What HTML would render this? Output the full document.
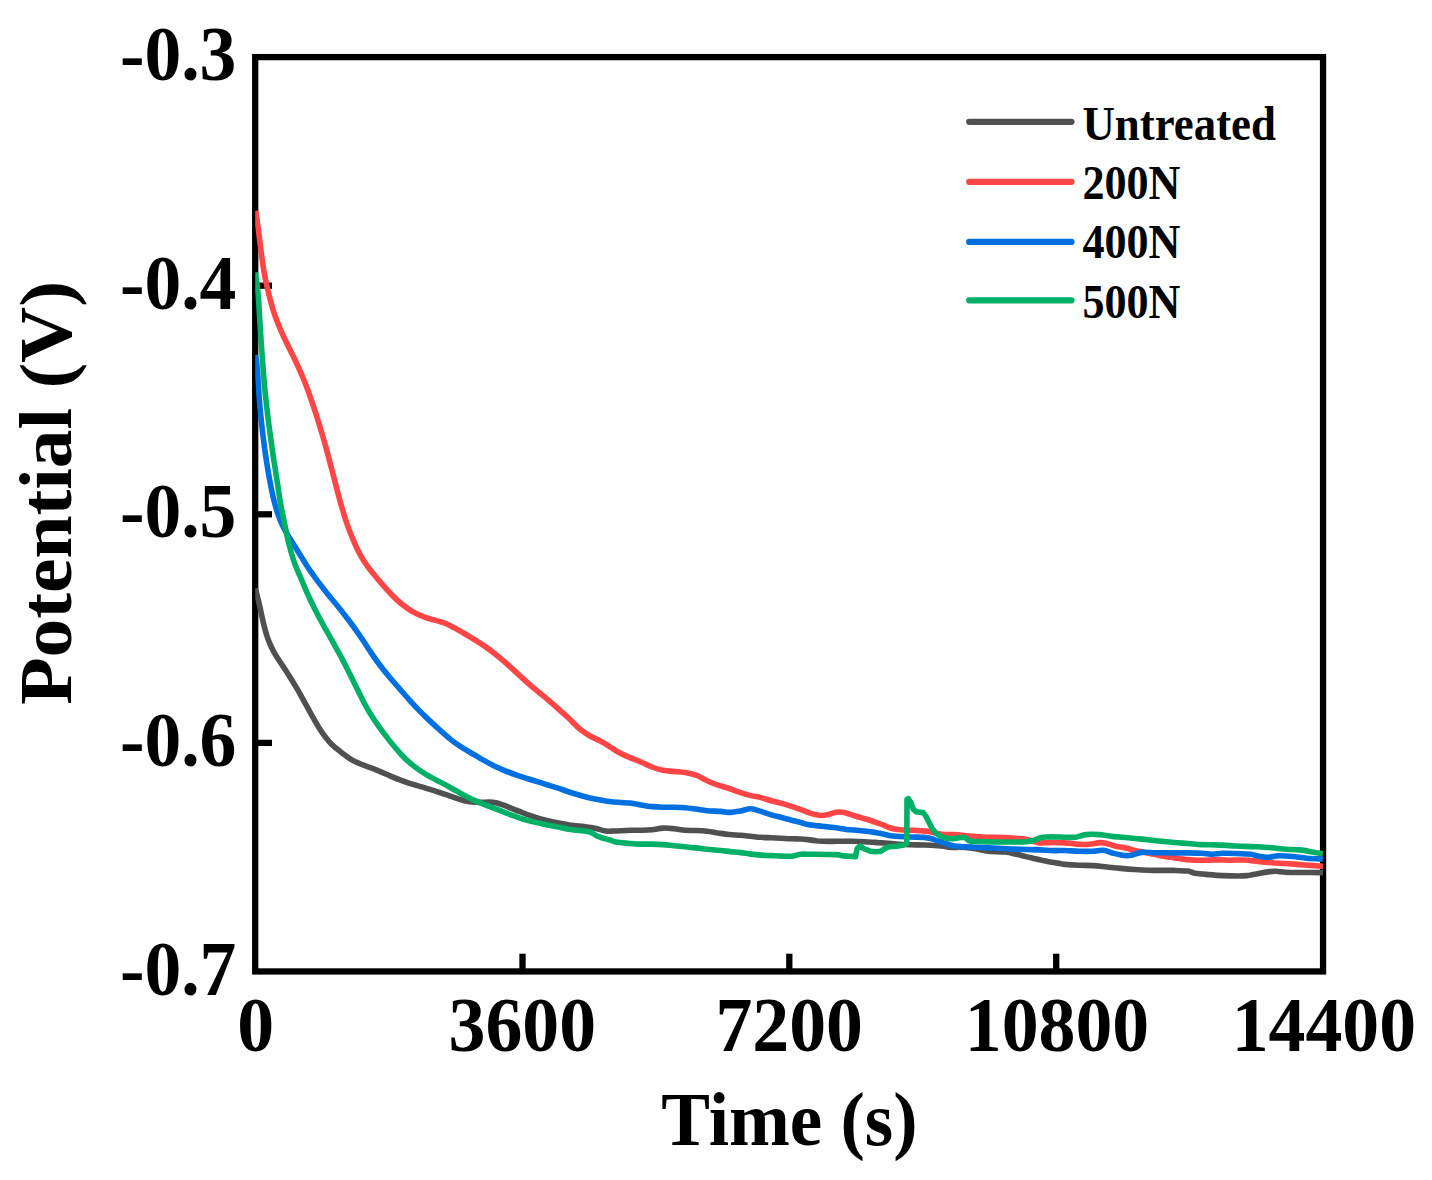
<!DOCTYPE html>
<html><head><meta charset="utf-8"><style>
html,body{margin:0;padding:0;background:#fff;width:1432px;height:1180px;overflow:hidden}
svg{display:block}
text{font-family:"Liberation Serif",serif;font-weight:bold;fill:#000}
</style></head><body>
<svg width="1432" height="1180" viewBox="0 0 1432 1180" xmlns="http://www.w3.org/2000/svg">
<rect width="1432" height="1180" fill="#fff"/>
<g stroke="#000" stroke-width="6.3" fill="none">
<rect x="255.2" y="57.1" width="1067.85" height="914.35"/>
<line x1="258" y1="285.7" x2="272" y2="285.7"/>
<line x1="258" y1="514.3" x2="272" y2="514.3"/>
<line x1="258" y1="742.9" x2="272" y2="742.9"/>
<line x1="522.5" y1="953.7" x2="522.5" y2="969"/>
<line x1="789.3" y1="953.7" x2="789.3" y2="969"/>
<line x1="1056.2" y1="953.7" x2="1056.2" y2="969"/>
</g>
<defs><clipPath id="c"><rect x="255.2" y="57.1" width="1067.85" height="914.35"/></clipPath></defs>
<g clip-path="url(#c)" fill="none" stroke-width="5.6" stroke-linejoin="round" stroke-linecap="butt">
<path stroke="#505050" d="M255.30,588.50 C255.59,589.60 256.48,592.83 257.07,595.12 C257.66,597.42 258.24,599.81 258.82,602.24 C259.39,604.68 259.95,607.19 260.51,609.74 C261.07,612.28 261.57,614.80 262.17,617.51 C262.78,620.22 263.36,623.03 264.12,625.99 C264.88,628.96 265.74,632.21 266.75,635.29 C267.76,638.37 268.89,641.54 270.16,644.48 C271.43,647.41 272.79,650.10 274.38,652.90 C275.96,655.70 277.75,658.36 279.64,661.27 C281.54,664.19 283.71,667.31 285.74,670.41 C287.76,673.52 289.85,676.78 291.78,679.91 C293.71,683.05 295.50,686.10 297.31,689.21 C299.11,692.33 300.84,695.40 302.62,698.59 C304.41,701.78 306.21,705.09 308.00,708.35 C309.79,711.61 311.58,714.98 313.39,718.16 C315.19,721.34 317.00,724.52 318.83,727.43 C320.66,730.35 322.53,733.17 324.36,735.66 C326.19,738.14 328.02,740.38 329.80,742.32 C331.58,744.26 333.30,745.79 335.02,747.31 C336.73,748.82 338.41,750.06 340.09,751.39 C341.78,752.72 343.45,754.04 345.12,755.29 C346.80,756.53 348.43,757.77 350.16,758.86 C351.89,759.95 353.52,760.88 355.51,761.83 C357.51,762.79 359.60,763.60 362.11,764.58 C364.62,765.56 367.54,766.56 370.56,767.73 C373.58,768.89 376.96,770.20 380.22,771.56 C383.48,772.91 386.83,774.45 390.12,775.85 C393.42,777.25 396.76,778.72 399.99,779.97 C403.22,781.22 406.48,782.34 409.51,783.34 C412.55,784.33 415.36,785.10 418.19,785.93 C421.01,786.76 423.58,787.46 426.46,788.33 C429.33,789.19 432.33,790.13 435.45,791.14 C438.57,792.15 441.97,793.29 445.16,794.38 C448.35,795.46 451.55,796.62 454.59,797.63 C457.63,798.64 460.48,799.68 463.39,800.42 C466.31,801.17 469.19,801.76 472.09,802.09 C475.00,802.41 478.02,802.36 480.81,802.37 C483.61,802.38 486.35,802.08 488.88,802.16 C491.40,802.24 493.62,802.38 495.97,802.84 C498.31,803.31 500.46,804.09 502.94,804.96 C505.41,805.83 507.95,806.93 510.81,808.06 C513.67,809.18 516.71,810.43 520.10,811.72 C523.49,813.01 527.19,814.47 531.12,815.81 C535.06,817.15 539.40,818.58 543.73,819.75 C548.07,820.92 552.64,821.95 557.13,822.86 C561.63,823.76 566.19,824.58 570.70,825.20 C575.21,825.82 580.15,826.10 584.20,826.60 C588.25,827.10 591.38,827.47 595.00,828.20 C598.62,828.93 602.73,830.53 605.90,831.00 C609.07,831.47 609.98,831.12 614.00,831.00 C618.02,830.88 625.50,830.42 630.00,830.30 C634.50,830.18 637.33,830.38 641.00,830.30 C644.67,830.22 648.33,830.17 652.00,829.80 C655.67,829.43 659.33,828.28 663.00,828.10 C666.67,827.92 670.32,828.33 674.00,828.70 C677.68,829.07 681.42,830.00 685.10,830.30 C688.78,830.60 692.43,830.33 696.10,830.50 C699.77,830.67 703.43,830.88 707.10,831.30 C710.77,831.72 714.43,832.47 718.10,833.00 C721.77,833.53 725.33,834.12 729.10,834.50 C732.87,834.88 737.07,835.00 740.70,835.30 C744.33,835.60 747.52,835.97 750.90,836.30 C754.28,836.63 757.62,837.05 761.00,837.30 C764.38,837.55 767.80,837.63 771.20,837.80 C774.60,837.97 778.00,838.13 781.40,838.30 C784.80,838.47 788.33,838.68 791.60,838.80 C794.87,838.92 798.28,838.87 801.00,839.00 C803.72,839.13 805.58,839.33 807.90,839.60 C810.22,839.87 812.57,840.32 814.90,840.60 C817.23,840.88 816.08,841.18 821.90,841.30 C827.72,841.42 843.45,841.27 849.80,841.30 C856.15,841.33 855.80,841.32 860.00,841.50 C864.20,841.68 871.33,842.17 875.00,842.40 C878.67,842.63 879.67,842.75 882.00,842.90 C884.33,843.05 886.67,843.12 889.00,843.30 C891.33,843.48 892.52,843.77 896.00,844.00 C899.48,844.23 905.25,844.53 909.90,844.70 C914.55,844.87 919.25,844.83 923.90,845.00 C928.55,845.17 934.32,845.47 937.80,845.70 C941.28,845.93 942.47,846.10 944.80,846.40 C947.13,846.70 949.47,847.35 951.80,847.50 C954.13,847.65 956.47,847.30 958.80,847.30 C961.13,847.30 963.93,847.40 965.80,847.50 C967.67,847.60 968.13,847.65 970.00,847.90 C971.87,848.15 974.67,848.57 977.00,849.00 C979.33,849.43 981.68,850.08 984.00,850.50 C986.32,850.92 987.42,851.25 990.90,851.50 C994.38,851.75 1001.40,851.72 1004.90,852.00 C1008.40,852.28 1009.57,852.73 1011.90,853.20 C1014.23,853.67 1016.57,854.23 1018.90,854.80 C1021.23,855.37 1023.58,856.03 1025.90,856.60 C1028.22,857.17 1030.48,857.67 1032.80,858.20 C1035.12,858.73 1037.47,859.30 1039.80,859.80 C1042.13,860.30 1044.47,860.73 1046.80,861.20 C1049.13,861.67 1051.60,862.22 1053.80,862.60 C1056.00,862.98 1058.13,863.20 1060.00,863.50 C1061.87,863.80 1061.83,864.10 1065.00,864.40 C1068.17,864.70 1074.35,865.10 1079.00,865.30 C1083.65,865.50 1088.25,865.32 1092.90,865.60 C1097.55,865.88 1102.23,866.53 1106.90,867.00 C1111.57,867.47 1116.25,867.98 1120.90,868.40 C1125.55,868.82 1130.15,869.20 1134.80,869.50 C1139.45,869.80 1144.60,870.05 1148.80,870.20 C1153.00,870.35 1155.80,870.37 1160.00,870.40 C1164.20,870.43 1169.35,870.28 1174.00,870.40 C1178.65,870.52 1184.42,870.63 1187.90,871.10 C1191.38,871.57 1191.40,872.62 1194.90,873.20 C1198.40,873.78 1204.25,874.20 1208.90,874.60 C1213.55,875.00 1217.95,875.37 1222.80,875.60 C1227.65,875.83 1233.92,876.00 1238.00,876.00 C1242.08,876.00 1244.97,875.80 1247.30,875.60 C1249.63,875.40 1249.88,875.20 1252.00,874.80 C1254.12,874.40 1257.00,873.73 1260.00,873.20 C1263.00,872.67 1267.33,871.92 1270.00,871.60 C1272.67,871.28 1273.35,871.20 1276.00,871.30 C1278.65,871.40 1281.93,872.00 1285.90,872.20 C1289.87,872.40 1293.62,872.43 1299.80,872.50 C1305.98,872.57 1319.13,872.58 1323.00,872.60"/>
<path stroke="#FF4545" d="M255.60,210.80 C255.83,212.27 256.53,216.54 256.99,219.59 C257.44,222.64 257.89,225.77 258.34,229.10 C258.78,232.43 259.21,236.05 259.65,239.57 C260.09,243.10 260.51,246.76 260.95,250.24 C261.39,253.71 261.81,257.08 262.28,260.43 C262.74,263.78 263.20,267.02 263.76,270.32 C264.32,273.62 264.94,276.91 265.63,280.24 C266.32,283.58 267.11,286.96 267.91,290.33 C268.72,293.71 269.56,297.12 270.46,300.50 C271.37,303.88 272.29,307.27 273.34,310.61 C274.40,313.94 275.54,317.23 276.78,320.52 C278.03,323.80 279.39,327.03 280.82,330.31 C282.25,333.60 283.78,336.89 285.36,340.23 C286.94,343.57 288.63,346.95 290.29,350.33 C291.94,353.71 293.68,357.12 295.29,360.50 C296.91,363.88 298.49,367.27 299.96,370.61 C301.43,373.94 302.79,377.23 304.11,380.52 C305.43,383.80 306.66,387.03 307.88,390.31 C309.09,393.60 310.26,396.89 311.41,400.23 C312.56,403.57 313.67,406.95 314.77,410.33 C315.88,413.71 316.96,417.12 318.02,420.50 C319.08,423.88 320.13,427.27 321.13,430.61 C322.14,433.94 323.11,437.23 324.05,440.52 C324.99,443.80 325.86,447.03 326.74,450.31 C327.63,453.60 328.48,456.90 329.36,460.23 C330.23,463.56 331.14,466.94 332.01,470.29 C332.89,473.63 333.75,476.97 334.61,480.29 C335.46,483.61 336.28,486.89 337.15,490.21 C338.02,493.53 338.91,496.87 339.84,500.21 C340.76,503.56 341.73,506.99 342.71,510.29 C343.68,513.58 344.68,516.91 345.68,519.98 C346.68,523.04 347.67,525.85 348.71,528.65 C349.74,531.45 350.75,533.95 351.91,536.77 C353.08,539.60 354.26,542.52 355.69,545.61 C357.13,548.70 358.67,552.04 360.53,555.32 C362.39,558.60 364.52,561.96 366.88,565.29 C369.23,568.62 371.95,571.99 374.63,575.29 C377.31,578.60 380.22,581.99 382.95,585.11 C385.68,588.23 388.44,591.34 391.00,594.01 C393.56,596.68 396.04,599.08 398.31,601.12 C400.58,603.17 402.65,604.79 404.63,606.27 C406.60,607.76 408.36,608.92 410.13,610.03 C411.91,611.15 413.57,612.08 415.27,612.97 C416.97,613.85 418.64,614.62 420.33,615.34 C422.02,616.07 423.71,616.72 425.41,617.33 C427.10,617.94 428.80,618.50 430.50,619.01 C432.20,619.52 433.90,619.94 435.60,620.39 C437.30,620.85 439.01,621.22 440.69,621.74 C442.38,622.25 444.02,622.77 445.71,623.47 C447.41,624.17 448.96,624.94 450.87,625.93 C452.78,626.93 454.75,628.05 457.19,629.43 C459.64,630.81 462.53,632.45 465.54,634.23 C468.56,636.01 472.05,638.07 475.29,640.10 C478.52,642.13 481.91,644.30 484.96,646.40 C488.01,648.50 490.81,650.54 493.59,652.69 C496.38,654.83 498.85,656.87 501.66,659.27 C504.48,661.67 507.41,664.29 510.49,667.08 C513.58,669.87 516.97,673.11 520.16,676.02 C523.36,678.94 526.55,681.89 529.66,684.59 C532.77,687.30 535.73,689.67 538.84,692.25 C541.95,694.83 545.09,697.33 548.34,700.09 C551.59,702.85 554.97,705.83 558.33,708.81 C561.69,711.80 564.89,714.60 568.50,718.00 C572.11,721.40 576.42,726.20 580.00,729.20 C583.58,732.20 586.67,734.07 590.00,736.00 C593.33,737.93 596.67,739.00 600.00,740.80 C603.33,742.60 607.00,744.93 610.00,746.80 C613.00,748.67 614.67,750.20 618.00,752.00 C621.33,753.80 626.17,755.93 630.00,757.60 C633.83,759.27 637.33,760.43 641.00,762.00 C644.67,763.57 648.33,765.62 652.00,767.00 C655.67,768.38 659.33,769.57 663.00,770.30 C666.67,771.03 670.32,771.03 674.00,771.40 C677.68,771.77 681.42,771.87 685.10,772.50 C688.78,773.13 692.43,773.83 696.10,775.20 C699.77,776.57 703.43,779.03 707.10,780.70 C710.77,782.37 714.43,783.90 718.10,785.20 C721.77,786.50 725.33,787.27 729.10,788.50 C732.87,789.73 737.07,791.42 740.70,792.60 C744.33,793.78 747.52,794.77 750.90,795.60 C754.28,796.43 757.62,796.75 761.00,797.60 C764.38,798.45 767.80,799.77 771.20,800.70 C774.60,801.63 778.00,802.27 781.40,803.20 C784.80,804.13 788.33,805.23 791.60,806.30 C794.87,807.37 798.28,808.60 801.00,809.60 C803.72,810.60 805.58,811.50 807.90,812.30 C810.22,813.10 812.57,813.87 814.90,814.40 C817.23,814.93 819.57,815.50 821.90,815.50 C824.23,815.50 826.57,814.93 828.90,814.40 C831.23,813.87 833.58,812.65 835.90,812.30 C838.22,811.95 840.48,812.00 842.80,812.30 C845.12,812.60 847.47,813.40 849.80,814.10 C852.13,814.80 854.47,815.77 856.80,816.50 C859.13,817.23 861.47,817.83 863.80,818.50 C866.13,819.17 868.93,819.88 870.80,820.50 C872.67,821.12 873.13,821.53 875.00,822.20 C876.87,822.87 879.67,823.62 882.00,824.50 C884.33,825.38 886.67,826.70 889.00,827.50 C891.33,828.30 893.10,828.83 896.00,829.30 C898.90,829.77 903.50,830.13 906.40,830.30 C909.30,830.47 911.07,830.22 913.40,830.30 C915.73,830.38 918.07,830.63 920.40,830.80 C922.73,830.97 924.50,830.85 927.40,831.30 C930.30,831.75 934.90,832.97 937.80,833.50 C940.70,834.03 942.47,834.33 944.80,834.50 C947.13,834.67 949.47,834.45 951.80,834.50 C954.13,834.55 956.47,834.58 958.80,834.80 C961.13,835.02 963.10,835.52 965.80,835.80 C968.50,836.08 972.55,836.33 975.00,836.50 C977.45,836.67 978.42,836.67 980.50,836.80 C982.58,836.93 983.43,837.18 987.50,837.30 C991.57,837.42 1000.25,837.33 1004.90,837.50 C1009.55,837.67 1012.05,838.05 1015.40,838.30 C1018.75,838.55 1022.23,838.55 1025.00,839.00 C1027.77,839.45 1029.53,840.35 1032.00,841.00 C1034.47,841.65 1037.33,842.63 1039.80,842.90 C1042.27,843.17 1043.30,842.65 1046.80,842.60 C1050.30,842.55 1056.93,842.48 1060.80,842.60 C1064.67,842.72 1066.97,843.02 1070.00,843.30 C1073.03,843.58 1075.77,844.13 1079.00,844.30 C1082.23,844.47 1085.92,844.58 1089.40,844.30 C1092.88,844.02 1096.98,842.72 1099.90,842.60 C1102.82,842.48 1104.57,843.08 1106.90,843.60 C1109.23,844.12 1111.57,845.12 1113.90,845.70 C1116.23,846.28 1118.58,846.63 1120.90,847.10 C1123.22,847.57 1125.83,848.03 1127.80,848.50 C1129.77,848.97 1130.67,849.38 1132.70,849.90 C1134.73,850.42 1137.12,851.02 1140.00,851.60 C1142.88,852.18 1146.67,852.72 1150.00,853.40 C1153.33,854.08 1156.00,854.97 1160.00,855.70 C1164.00,856.43 1169.35,857.15 1174.00,857.80 C1178.65,858.45 1183.25,859.18 1187.90,859.60 C1192.55,860.02 1197.23,860.25 1201.90,860.30 C1206.57,860.35 1211.25,859.92 1215.90,859.90 C1220.55,859.88 1225.12,860.18 1229.80,860.20 C1234.48,860.22 1239.32,859.80 1244.00,860.00 C1248.68,860.20 1253.25,860.93 1257.90,861.40 C1262.55,861.87 1267.23,862.45 1271.90,862.80 C1276.57,863.15 1281.25,863.20 1285.90,863.50 C1290.55,863.80 1295.15,864.25 1299.80,864.60 C1304.45,864.95 1309.93,865.32 1313.80,865.60 C1317.67,865.88 1321.47,866.18 1323.00,866.30"/>
<path stroke="#0070E0" d="M255.30,355.00 C255.49,356.08 256.09,358.78 256.46,361.48 C256.82,364.17 257.18,367.46 257.49,371.16 C257.80,374.86 258.05,379.34 258.33,383.67 C258.62,388.00 258.86,392.62 259.19,397.13 C259.52,401.63 259.89,406.17 260.31,410.68 C260.72,415.18 261.18,419.69 261.66,424.14 C262.14,428.59 262.65,433.02 263.19,437.37 C263.72,441.71 264.27,445.99 264.86,450.22 C265.45,454.45 266.06,458.56 266.73,462.76 C267.39,466.96 268.10,471.20 268.86,475.42 C269.61,479.65 270.41,484.03 271.24,488.09 C272.06,492.15 272.89,496.09 273.81,499.79 C274.72,503.49 275.65,506.90 276.73,510.29 C277.80,513.67 278.96,516.95 280.24,520.09 C281.52,523.22 282.91,526.21 284.41,529.10 C285.90,531.99 287.52,534.63 289.22,537.45 C290.92,540.27 292.79,543.10 294.62,546.02 C296.46,548.94 298.40,552.06 300.20,554.96 C302.00,557.87 303.66,560.68 305.43,563.46 C307.19,566.24 308.83,568.80 310.81,571.65 C312.79,574.50 315.02,577.52 317.30,580.57 C319.58,583.62 322.20,587.01 324.51,589.96 C326.82,592.91 329.10,595.76 331.15,598.27 C333.20,600.78 334.92,602.76 336.79,605.04 C338.65,607.33 340.33,609.38 342.35,611.96 C344.37,614.54 346.61,617.47 348.90,620.53 C351.19,623.59 353.77,627.02 356.11,630.32 C358.46,633.61 360.74,636.97 362.96,640.29 C365.18,643.61 367.21,646.91 369.43,650.24 C371.65,653.56 373.87,656.91 376.27,660.24 C378.68,663.57 381.22,666.90 383.86,670.23 C386.51,673.56 389.32,676.87 392.15,680.20 C394.98,683.53 397.93,686.87 400.86,690.21 C403.79,693.56 406.75,696.95 409.74,700.27 C412.74,703.59 415.81,706.97 418.84,710.12 C421.88,713.26 425.04,716.34 427.96,719.14 C430.89,721.94 433.72,724.48 436.38,726.91 C439.04,729.34 441.45,731.58 443.91,733.73 C446.36,735.89 448.71,737.95 451.11,739.84 C453.50,741.73 455.91,743.46 458.26,745.06 C460.62,746.67 462.95,748.06 465.24,749.46 C467.54,750.86 469.79,752.14 472.04,753.46 C474.29,754.79 476.49,756.09 478.75,757.41 C481.01,758.73 483.19,760.04 485.61,761.37 C488.02,762.70 490.35,763.98 493.22,765.39 C496.10,766.79 499.18,768.26 502.86,769.80 C506.54,771.34 510.88,773.04 515.30,774.62 C519.72,776.21 524.70,777.80 529.39,779.29 C534.09,780.78 538.84,782.14 543.46,783.58 C548.09,785.01 552.59,786.42 557.13,787.91 C561.67,789.39 566.19,791.07 570.70,792.50 C575.21,793.93 579.68,795.32 584.20,796.50 C588.72,797.68 593.28,798.72 597.80,799.60 C602.32,800.48 605.93,801.23 611.30,801.80 C616.67,802.37 625.05,802.47 630.00,803.00 C634.95,803.53 637.33,804.40 641.00,805.00 C644.67,805.60 648.33,806.23 652.00,806.60 C655.67,806.97 659.33,807.10 663.00,807.20 C666.67,807.30 670.32,807.12 674.00,807.20 C677.68,807.28 681.42,807.38 685.10,807.70 C688.78,808.02 692.43,808.60 696.10,809.10 C699.77,809.60 703.07,810.32 707.10,810.70 C711.13,811.08 716.40,811.12 720.30,811.40 C724.20,811.68 727.10,812.48 730.50,812.40 C733.90,812.32 737.30,811.50 740.70,810.90 C744.10,810.30 747.52,808.72 750.90,808.80 C754.28,808.88 757.62,810.38 761.00,811.40 C764.38,812.42 767.80,813.88 771.20,814.90 C774.60,815.92 778.00,816.62 781.40,817.50 C784.80,818.38 788.33,819.37 791.60,820.20 C794.87,821.03 798.28,821.77 801.00,822.50 C803.72,823.23 805.58,824.10 807.90,824.60 C810.22,825.10 812.57,825.23 814.90,825.50 C817.23,825.77 819.57,825.95 821.90,826.20 C824.23,826.45 826.57,826.73 828.90,827.00 C831.23,827.27 833.58,827.50 835.90,827.80 C838.22,828.10 840.48,828.47 842.80,828.80 C845.12,829.13 847.47,829.57 849.80,829.80 C852.13,830.03 854.47,830.00 856.80,830.20 C859.13,830.40 861.47,830.73 863.80,831.00 C866.13,831.27 868.93,831.57 870.80,831.80 C872.67,832.03 873.13,832.07 875.00,832.40 C876.87,832.73 879.67,833.30 882.00,833.80 C884.33,834.30 886.67,834.98 889.00,835.40 C891.33,835.82 892.52,836.03 896.00,836.30 C899.48,836.57 905.25,836.82 909.90,837.00 C914.55,837.18 920.40,837.15 923.90,837.40 C927.40,837.65 928.58,837.90 930.90,838.50 C933.22,839.10 935.48,840.20 937.80,841.00 C940.12,841.80 942.47,842.55 944.80,843.30 C947.13,844.05 949.47,844.98 951.80,845.50 C954.13,846.02 956.47,846.18 958.80,846.40 C961.13,846.62 963.10,846.67 965.80,846.80 C968.50,846.93 971.97,847.07 975.00,847.20 C978.03,847.33 980.18,847.42 984.00,847.60 C987.82,847.78 993.25,848.07 997.90,848.30 C1002.55,848.53 1007.23,848.80 1011.90,849.00 C1016.57,849.20 1021.25,849.35 1025.90,849.50 C1030.55,849.65 1035.15,849.72 1039.80,849.90 C1044.45,850.08 1049.60,850.50 1053.80,850.60 C1058.00,850.70 1060.80,850.38 1065.00,850.50 C1069.20,850.62 1074.35,851.17 1079.00,851.30 C1083.65,851.43 1088.83,851.47 1092.90,851.30 C1096.97,851.13 1099.90,849.95 1103.40,850.30 C1106.90,850.65 1110.40,852.53 1113.90,853.40 C1117.40,854.27 1121.50,855.20 1124.40,855.50 C1127.30,855.80 1128.40,855.72 1131.30,855.20 C1134.20,854.68 1137.72,852.82 1141.80,852.40 C1145.88,851.98 1150.43,852.62 1155.80,852.70 C1161.17,852.78 1168.65,852.87 1174.00,852.90 C1179.35,852.93 1183.25,852.83 1187.90,852.90 C1192.55,852.97 1197.82,853.07 1201.90,853.30 C1205.98,853.53 1208.92,854.30 1212.40,854.30 C1215.88,854.30 1218.73,853.43 1222.80,853.30 C1226.87,853.17 1232.13,853.33 1236.80,853.50 C1241.47,853.67 1247.28,853.88 1250.80,854.30 C1254.32,854.72 1254.97,855.52 1257.90,856.00 C1260.83,856.48 1264.90,857.23 1268.40,857.20 C1271.90,857.17 1274.83,855.92 1278.90,855.80 C1282.97,855.68 1288.15,856.08 1292.80,856.50 C1297.45,856.92 1301.77,857.88 1306.80,858.30 C1311.83,858.72 1320.30,858.88 1323.00,859.00"/>
<path stroke="#00B066" d="M255.30,272.50 C255.51,273.93 256.16,278.11 256.57,281.11 C256.97,284.10 257.39,287.26 257.73,290.49 C258.07,293.72 258.36,297.12 258.62,300.50 C258.87,303.88 259.05,307.23 259.26,310.79 C259.47,314.36 259.64,317.83 259.88,321.88 C260.12,325.94 260.39,330.26 260.71,335.12 C261.03,339.98 261.42,345.58 261.81,351.02 C262.20,356.47 262.63,362.42 263.04,367.78 C263.46,373.14 263.86,378.28 264.29,383.17 C264.72,388.06 265.16,392.54 265.64,397.13 C266.12,401.71 266.64,406.17 267.17,410.68 C267.70,415.18 268.27,419.75 268.82,424.14 C269.38,428.54 269.97,432.97 270.52,437.05 C271.07,441.13 271.61,445.00 272.13,448.65 C272.65,452.30 273.14,455.59 273.66,458.98 C274.17,462.36 274.69,465.58 275.23,468.95 C275.76,472.32 276.31,475.76 276.84,479.22 C277.37,482.68 277.88,486.23 278.40,489.71 C278.92,493.19 279.40,496.68 279.97,500.11 C280.54,503.54 281.16,506.98 281.80,510.29 C282.44,513.60 283.17,516.91 283.80,519.98 C284.43,523.04 285.00,525.85 285.58,528.65 C286.16,531.45 286.64,533.95 287.28,536.77 C287.91,539.60 288.60,542.56 289.38,545.60 C290.16,548.64 291.06,552.04 291.95,555.03 C292.84,558.01 293.79,561.01 294.69,563.54 C295.60,566.06 296.51,568.15 297.37,570.19 C298.23,572.23 299.01,573.77 299.88,575.78 C300.74,577.79 301.54,579.78 302.58,582.25 C303.62,584.72 304.79,587.61 306.12,590.61 C307.44,593.60 308.98,596.94 310.53,600.21 C312.08,603.48 313.73,606.87 315.42,610.21 C317.11,613.56 318.89,616.99 320.66,620.29 C322.43,623.58 324.32,626.91 326.03,629.98 C327.75,633.04 329.37,635.85 330.96,638.65 C332.54,641.45 333.97,643.95 335.54,646.77 C337.12,649.60 338.77,652.57 340.39,655.60 C342.01,658.63 343.74,661.97 345.27,664.98 C346.80,667.98 348.18,670.85 349.57,673.65 C350.95,676.45 352.18,678.95 353.58,681.77 C354.98,684.60 356.45,687.57 357.96,690.60 C359.47,693.63 361.10,696.97 362.66,699.98 C364.21,702.98 365.70,705.85 367.30,708.65 C368.90,711.45 370.39,713.91 372.24,716.76 C374.09,719.62 376.09,722.54 378.39,725.77 C380.69,729.00 383.40,732.68 386.04,736.14 C388.69,739.60 391.60,743.32 394.28,746.54 C396.97,749.77 399.54,752.77 402.16,755.51 C404.77,758.24 407.28,760.64 409.99,762.98 C412.70,765.31 415.55,767.48 418.43,769.49 C421.30,771.51 424.27,773.34 427.22,775.08 C430.17,776.81 433.10,778.31 436.12,779.92 C439.14,781.54 442.27,783.11 445.35,784.78 C448.43,786.46 451.57,788.26 454.60,789.97 C457.63,791.68 460.52,793.45 463.52,795.05 C466.53,796.65 469.51,798.16 472.65,799.59 C475.79,801.03 479.05,802.34 482.35,803.68 C485.65,805.02 489.02,806.30 492.44,807.64 C495.87,808.98 499.43,810.38 502.89,811.73 C506.36,813.08 509.91,814.51 513.22,815.73 C516.52,816.94 519.52,818.03 522.73,819.01 C525.93,820.00 528.89,820.78 532.44,821.64 C535.98,822.51 539.88,823.32 543.99,824.19 C548.11,825.07 552.68,825.97 557.13,826.88 C561.58,827.78 566.19,828.91 570.70,829.60 C575.21,830.29 580.82,830.55 584.20,831.00 C587.58,831.45 588.73,831.42 591.00,832.30 C593.27,833.18 594.42,834.93 597.80,836.30 C601.18,837.67 607.97,839.50 611.30,840.50 C614.63,841.50 614.68,841.80 617.80,842.30 C620.92,842.80 626.13,843.20 630.00,843.50 C633.87,843.80 637.33,844.00 641.00,844.10 C644.67,844.20 648.33,844.02 652.00,844.10 C655.67,844.18 659.33,844.33 663.00,844.60 C666.67,844.87 670.32,845.33 674.00,845.70 C677.68,846.07 681.42,846.43 685.10,846.80 C688.78,847.17 692.43,847.48 696.10,847.90 C699.77,848.32 703.07,848.87 707.10,849.30 C711.13,849.73 716.40,850.12 720.30,850.50 C724.20,850.88 727.10,851.25 730.50,851.60 C733.90,851.95 737.30,852.18 740.70,852.60 C744.10,853.02 747.52,853.68 750.90,854.10 C754.28,854.52 757.62,854.85 761.00,855.10 C764.38,855.35 767.80,855.43 771.20,855.60 C774.60,855.77 778.00,855.98 781.40,856.10 C784.80,856.22 789.33,856.38 791.60,856.30 C793.87,856.22 793.43,855.95 795.00,855.60 C796.57,855.25 798.85,854.43 801.00,854.20 C803.15,853.97 802.08,854.13 807.90,854.20 C813.72,854.27 830.30,854.37 835.90,854.60 C841.50,854.83 839.18,855.32 841.50,855.60 C843.82,855.88 847.48,856.10 849.80,856.30 C852.12,856.50 854.47,856.72 855.40,856.80  L857.20,848.50 L860.30,846.00 L863.80,848.70 L870.80,851.30 L876.00,851.70 L880.60,851.40 L885.50,848.20 L889.00,846.80 L896.00,846.20 L902.90,845.20 L906.80,843.50 L907.00,799.50 L908.30,798.70 L910.80,802.50 L913.20,809.00 L916.00,811.80 L923.00,812.60 L926.10,816.40 L929.10,822.50 L932.20,828.60 L935.80,833.20 L935.80,833.20 C936.63,833.72 939.12,835.48 940.80,836.30 C942.48,837.12 944.37,837.68 945.90,838.10 C947.43,838.52 948.43,838.75 950.00,838.80 C951.57,838.85 953.48,838.62 955.30,838.40 C957.12,838.18 959.15,837.58 960.90,837.50 C962.65,837.42 964.28,837.32 965.80,837.90 C967.32,838.48 966.97,840.38 970.00,841.00 C973.03,841.62 979.35,841.43 984.00,841.60 C988.65,841.77 993.25,841.93 997.90,842.00 C1002.55,842.07 1007.23,842.03 1011.90,842.00 C1016.57,841.97 1022.42,842.05 1025.90,841.80 C1029.38,841.55 1030.48,841.13 1032.80,840.50 C1035.12,839.87 1037.47,838.58 1039.80,838.00 C1042.13,837.42 1043.30,837.17 1046.80,837.00 C1050.30,836.83 1057.43,836.95 1060.80,837.00 C1064.17,837.05 1064.55,837.27 1067.00,837.30 C1069.45,837.33 1072.33,837.65 1075.50,837.20 C1078.67,836.75 1081.93,835.03 1086.00,834.60 C1090.07,834.17 1095.25,834.27 1099.90,834.60 C1104.55,834.93 1109.25,836.08 1113.90,836.60 C1118.55,837.12 1123.15,837.28 1127.80,837.70 C1132.45,838.12 1137.13,838.58 1141.80,839.10 C1146.47,839.62 1150.43,840.23 1155.80,840.80 C1161.17,841.37 1168.65,842.05 1174.00,842.50 C1179.35,842.95 1183.25,843.15 1187.90,843.50 C1192.55,843.85 1197.23,844.37 1201.90,844.60 C1206.57,844.83 1211.25,844.73 1215.90,844.90 C1220.55,845.07 1225.12,845.35 1229.80,845.60 C1234.48,845.85 1239.32,846.20 1244.00,846.40 C1248.68,846.60 1253.25,846.57 1257.90,846.80 C1262.55,847.03 1267.23,847.40 1271.90,847.80 C1276.57,848.20 1281.25,848.85 1285.90,849.20 C1290.55,849.55 1295.15,849.38 1299.80,849.90 C1304.45,850.42 1309.93,851.65 1313.80,852.30 C1317.67,852.95 1321.47,853.55 1323.00,853.80"/>
</g>
<text font-size="78.3" text-anchor="start" transform="translate(119.92,80.20) scale(0.94,1)">-0.3</text>
<text font-size="78.3" text-anchor="start" transform="translate(119.92,308.80) scale(0.94,1)">-0.4</text>
<text font-size="78.3" text-anchor="start" transform="translate(119.92,537.40) scale(0.94,1)">-0.5</text>
<text font-size="78.3" text-anchor="start" transform="translate(119.92,766.00) scale(0.94,1)">-0.6</text>
<text font-size="78.3" text-anchor="start" transform="translate(119.92,994.60) scale(0.94,1)">-0.7</text>
<text font-size="78.5" text-anchor="middle" transform="translate(255.60,1051.30) scale(0.94,1)">0</text>
<text font-size="78.5" text-anchor="middle" transform="translate(522.30,1051.30) scale(0.94,1)">3600</text>
<text font-size="78.5" text-anchor="middle" transform="translate(789.20,1051.30) scale(0.94,1)">7200</text>
<text font-size="78.5" text-anchor="middle" transform="translate(1057.00,1051.30) scale(0.94,1)">10800</text>
<text font-size="78.5" text-anchor="middle" transform="translate(1323.90,1051.30) scale(0.94,1)">14400</text>
<text font-size="76.5" text-anchor="start" transform="translate(661.30,1144.70) scale(0.955,1)">Time (s)</text>
<text font-size="77.5" transform="translate(71,704.86) scale(0.95,1) rotate(-90)">Potential (V)</text>
<text font-size="48.5" text-anchor="start" transform="translate(1082.45,139.60) scale(0.925,1)">Untreated</text>
<text font-size="48.5" text-anchor="start" transform="translate(1082.48,198.60) scale(0.909,1)">200N</text>
<text font-size="48.5" text-anchor="start" transform="translate(1082.48,257.80) scale(0.909,1)">400N</text>
<text font-size="48.5" text-anchor="start" transform="translate(1082.48,317.60) scale(0.909,1)">500N</text>
<g stroke-width="6.2" stroke-linecap="round">
<line x1="969.2" y1="121.8" x2="1071.5" y2="121.8" stroke="#505050"/>
<line x1="969.2" y1="181.8" x2="1071.5" y2="181.8" stroke="#FF4545"/>
<line x1="969.2" y1="241.9" x2="1071.5" y2="241.9" stroke="#0070E0"/>
<line x1="969.2" y1="300.3" x2="1071.5" y2="300.3" stroke="#00B066"/>
</g>
</svg>
</body></html>
